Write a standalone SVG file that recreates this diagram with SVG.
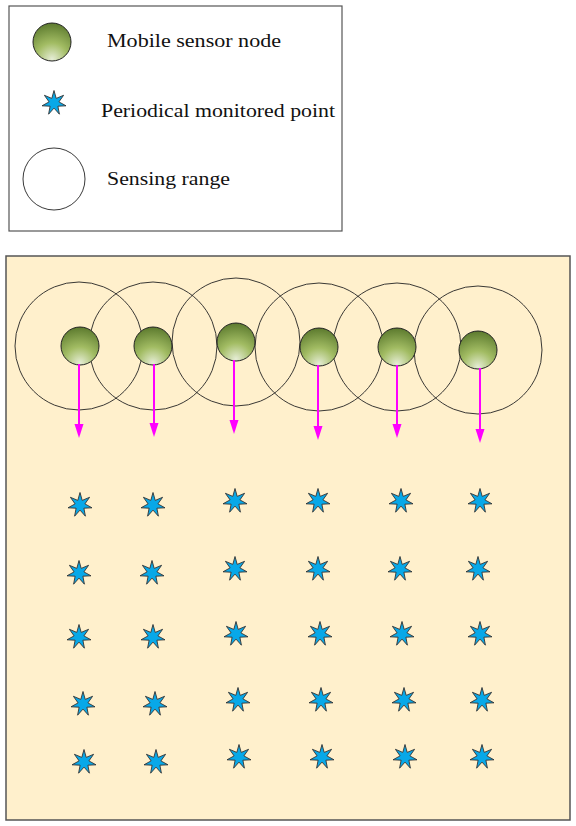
<svg xmlns="http://www.w3.org/2000/svg" width="576" height="826" viewBox="0 0 576 826">
<style>
.frame{fill:#fff;stroke:#555;stroke-width:1.2}
.field{fill:#FFF0CC;stroke:#555;stroke-width:1.5}
.range{fill:none;stroke:#222;stroke-width:0.9}
.ball{fill:url(#g);stroke:#222;stroke-width:1}
.star{fill:#08A8E8;stroke:#333;stroke-width:0.9}
.lbl{font-family:"Liberation Serif","Times New Roman",serif;font-size:19px;fill:#111}
.arr{stroke:#FF00FF;stroke-width:2;fill:none}
.head{fill:#FF00FF}
</style>
<defs>
<radialGradient id="g" cx="0.5" cy="0.95" r="0.95" fx="0.5" fy="0.95">
<stop offset="0" stop-color="#E6EDD6"/>
<stop offset="0.45" stop-color="#A2BC63"/>
<stop offset="1" stop-color="#5C7A2E"/>
</radialGradient>
<polygon id="st" points="0,-12.5 2.2,-4.6 9.6,-7.7 4.9,-1.1 12,2.8 3.9,3.2 5.4,11.2 0,5.1 -5.4,11.2 -3.9,3.2 -12,2.8 -4.9,-1.1 -9.6,-7.7 -2.2,-4.6"/>
<polygon id="ah" points="-4.5,-14 4.5,-14 0,0"/>
</defs>
<g id="legend">
<rect class="frame" x="9" y="6" width="333" height="225"/>
<circle class="ball" cx="52" cy="42" r="19"/>
<use href="#st" class="star" x="54" y="103"/>
<circle class="range" cx="54" cy="179" r="31"/>
<text class="lbl" x="107" y="47" textLength="174" lengthAdjust="spacingAndGlyphs">Mobile sensor node</text>
<text class="lbl" x="101" y="117" textLength="234" lengthAdjust="spacingAndGlyphs">Periodical monitored point</text>
<text class="lbl" x="107" y="185" textLength="123" lengthAdjust="spacingAndGlyphs">Sensing range</text>
</g>
<g id="field">
<rect class="field" x="6" y="256" width="564" height="564"/>
</g>
<g id="ranges">
<circle class="range" cx="79" cy="346" r="64"/>
<circle class="range" cx="153" cy="346" r="64"/>
<circle class="range" cx="236" cy="342" r="64"/>
<circle class="range" cx="319" cy="347" r="64"/>
<circle class="range" cx="397" cy="347" r="64"/>
<circle class="range" cx="478" cy="350" r="64"/>
</g>
<g id="sensors">
<circle id="s1" class="ball" cx="80" cy="346" r="19"/>
<circle id="s2" class="ball" cx="153" cy="346" r="19"/>
<circle id="s3" class="ball" cx="236" cy="342" r="19"/>
<circle id="s4" class="ball" cx="319" cy="347" r="19"/>
<circle id="s5" class="ball" cx="397" cy="347" r="19"/>
<circle id="s6" class="ball" cx="478" cy="350" r="19"/>
</g>
<g id="connectors">
<line class="arr" x1="79" y1="364" x2="79" y2="426"/>
<use href="#ah" class="head" x="79" y="438"/>
<line class="arr" x1="154" y1="364" x2="154" y2="425"/>
<use href="#ah" class="head" x="154" y="437"/>
<line class="arr" x1="234" y1="360" x2="234" y2="422"/>
<use href="#ah" class="head" x="234" y="434"/>
<line class="arr" x1="318" y1="365" x2="318" y2="428"/>
<use href="#ah" class="head" x="318" y="440"/>
<line class="arr" x1="397" y1="365" x2="397" y2="426"/>
<use href="#ah" class="head" x="397" y="438"/>
<line class="arr" x1="480" y1="368" x2="480" y2="431"/>
<use href="#ah" class="head" x="480" y="443"/>
</g>
<g id="points">
<use href="#st" class="star" x="80" y="505"/>
<use href="#st" class="star" x="153" y="505"/>
<use href="#st" class="star" x="235" y="501"/>
<use href="#st" class="star" x="318" y="501"/>
<use href="#st" class="star" x="401" y="501"/>
<use href="#st" class="star" x="480" y="501"/>
<use href="#st" class="star" x="79" y="573"/>
<use href="#st" class="star" x="152" y="573"/>
<use href="#st" class="star" x="235" y="569"/>
<use href="#st" class="star" x="318" y="569"/>
<use href="#st" class="star" x="400" y="569"/>
<use href="#st" class="star" x="478" y="569"/>
<use href="#st" class="star" x="79" y="637"/>
<use href="#st" class="star" x="153" y="637"/>
<use href="#st" class="star" x="236" y="634"/>
<use href="#st" class="star" x="320" y="634"/>
<use href="#st" class="star" x="402" y="634"/>
<use href="#st" class="star" x="480" y="634"/>
<use href="#st" class="star" x="83" y="704"/>
<use href="#st" class="star" x="155" y="704"/>
<use href="#st" class="star" x="238" y="700"/>
<use href="#st" class="star" x="321" y="700"/>
<use href="#st" class="star" x="404" y="700"/>
<use href="#st" class="star" x="482" y="700"/>
<use href="#st" class="star" x="84" y="762"/>
<use href="#st" class="star" x="156" y="762"/>
<use href="#st" class="star" x="239" y="757"/>
<use href="#st" class="star" x="322" y="757"/>
<use href="#st" class="star" x="405" y="757"/>
<use href="#st" class="star" x="482" y="757"/>
</g>
</svg>
